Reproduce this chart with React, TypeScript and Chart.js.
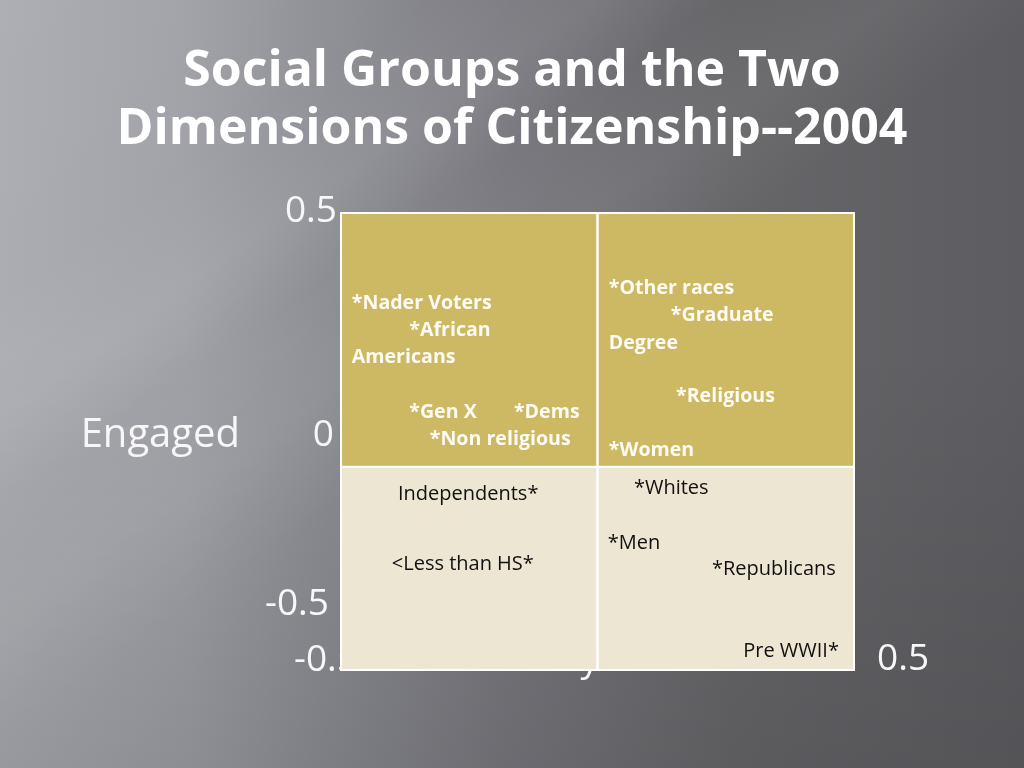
import React, { useEffect, useRef } from 'react';
import { Chart, Plugin, registerables } from 'chart.js';

Chart.register(...registerables);

// Axis ranges (data units)
const xRange = [-0.5, 0.5];
const yRange = [-0.4, 0.5];

// Quadrant cells
const quadrantXFrom = [-0.5, 0, -0.5, 0];
const quadrantXTo = [0, 0.5, 0, 0.5];
const quadrantYFrom = [0, 0, -0.4, -0.4];
const quadrantYTo = [0.5, 0.5, 0, 0];

// Social groups placed on the two dimensions
const groupLabels = [
    '*Nader Voters', '*African', 'Americans', '*Gen X', '*Dems', '*Non religious',
    '*Other races', '*Graduate', 'Degree', '*Religious', '*Women',
    'Independents*', '<Less than HS*',
    '*Whites', '*Men', '*Republicans', 'Pre WWII*'
];
const groupX = [
    -0.479, -0.367, -0.479, -0.367, -0.163, -0.327,
    0.022, 0.143, 0.022, 0.153, 0.022,
    -0.389, -0.401,
    0.071, 0.020, 0.223, 0.284
];
const groupY = [
    0.325, 0.272, 0.219, 0.110, 0.110, 0.057,
    0.354, 0.301, 0.246, 0.142, 0.035,
    -0.051, -0.189,
    -0.039, -0.148, -0.199, -0.360
];

// Tick labels and axis titles
const yTickLabels = ['0.5', '0', '-0.5'];
const xTickLabels = ['-0.5', '0.5'];
const yAxisTitle = 'Engaged';
const xAxisTitle = 'Duty';

const titleLines = ['Social Groups and the Two', 'Dimensions of Citizenship--2004'];

// styles / layout (kept apart from the data)
const quadrantColors = ['#cdb964', '#cdb964', '#ece6d3', '#ece6d3'];
const tickFont = '37px "Open Sans"';
const titleFont = '40px "Open Sans"';

const chartPlugin: Plugin = {
    id: 'quadrantChart',
    beforeDatasetsDraw(chart) {
        const { ctx, scales } = chart;
        const xs = scales.x;
        const ys = scales.y;
        ctx.save();
        // axis texts sit behind the cells
        ctx.fillStyle = '#f7f7f7';
        ctx.textBaseline = 'alphabetic';
        const cap = 37 * 0.357;
        ctx.font = titleFont;
        ctx.textAlign = 'right';
        ctx.fillText(yAxisTitle, 240, 433 + 40 * 0.357);
        ctx.font = tickFont;
        ctx.fillText(yTickLabels[0], 337, 209 + cap);
        ctx.fillText(yTickLabels[1], 334, 433 + cap);
        ctx.fillText(yTickLabels[2], 329, 602 + cap);
        ctx.textAlign = 'left';
        ctx.fillText(xTickLabels[0], 294, 658 + cap);
        ctx.fillText(xTickLabels[1], 877, 657 + cap);
        ctx.textAlign = 'right';
        ctx.fillText(xAxisTitle, 599, 671);

        // quadrant cells
        for (let i = 0; i < quadrantXFrom.length; i++) {
            const l = xs.getPixelForValue(quadrantXFrom[i]);
            const r = xs.getPixelForValue(quadrantXTo[i]);
            const t = ys.getPixelForValue(quadrantYTo[i]);
            const b = ys.getPixelForValue(quadrantYFrom[i]);
            ctx.fillStyle = quadrantColors[i];
            ctx.fillRect(l, t, r - l, b - t);
        }
        ctx.strokeStyle = '#ffffff';
        ctx.lineWidth = 2;
        for (let i = 0; i < quadrantXFrom.length; i++) {
            const l = xs.getPixelForValue(quadrantXFrom[i]);
            const r = xs.getPixelForValue(quadrantXTo[i]);
            const t = ys.getPixelForValue(quadrantYTo[i]);
            const b = ys.getPixelForValue(quadrantYFrom[i]);
            ctx.strokeRect(l, t, r - l, b - t);
        }
        ctx.restore();
    },
    afterDatasetsDraw(chart) {
        const { ctx } = chart;
        const meta = chart.getDatasetMeta(0);
        ctx.save();
        ctx.textAlign = 'left';
        ctx.textBaseline = 'alphabetic';
        meta.data.forEach((pt, i) => {
            const upper = groupY[i] > 0;
            const fs = upper ? 19.6 : 20;
            ctx.font = upper ? `bold ${fs}px "Open Sans"` : `${fs}px "Open Sans"`;
            ctx.fillStyle = upper ? '#fdfbf3' : '#111111';
            ctx.fillText(groupLabels[i], pt.x, pt.y + fs * 0.357);
        });
        ctx.restore();
    }
};

const App: React.FC = () => {
    const canvasRef = useRef<HTMLCanvasElement | null>(null);

    useEffect(() => {
        document.body.style.margin = '0';
        if (!canvasRef.current) return;
        const ctx = canvasRef.current.getContext('2d');
        if (!ctx) return;

        const chartInstance = new Chart(ctx, {
            type: 'scatter',
            data: {
                datasets: [{
                    data: groupX.map((x, i) => ({ x, y: groupY[i] })),
                    pointRadius: 0,
                    pointHoverRadius: 0,
                    backgroundColor: 'transparent',
                    borderColor: 'transparent'
                }]
            },
            options: {
                responsive: false,
                animation: false,
                devicePixelRatio: 1,
                layout: { padding: { left: 341, right: 170, top: 213, bottom: 98 } },
                scales: {
                    x: { type: 'linear', min: xRange[0], max: xRange[1], display: false },
                    y: { type: 'linear', min: yRange[0], max: yRange[1], display: false }
                },
                plugins: {
                    legend: { display: false },
                    tooltip: { enabled: false }
                }
            },
            plugins: [chartPlugin]
        });

        return () => {
            chartInstance.destroy();
        };
    }, []);

    return (
        <div style={{
            position: 'fixed', left: 0, top: 0, width: 1024, height: 768, overflow: 'hidden',
            background: [
                'linear-gradient(to bottom, rgba(0,0,0,0) 45%, rgba(0,0,0,0.10) 100%)',
                'linear-gradient(145deg, rgba(255,255,255,0) 20%, rgba(255,255,255,0.06) 28%, rgba(255,255,255,0) 34%, rgba(255,255,255,0.05) 42%, rgba(255,255,255,0) 50%)',
                'linear-gradient(125deg, rgba(255,255,255,0.08) 0%, rgba(255,255,255,0.03) 30%, rgba(255,255,255,0) 45%)',
                'linear-gradient(to right, #a7a8ae 0%, #9d9ea4 18%, #8b8c92 32%, #77777d 50%, #666669 72%, #5d5d61 100%)'
            ].join(',')
        }}>
            <div style={{
                position: 'absolute', left: 0, top: 38, width: 1024, textAlign: 'center',
                fontFamily: '"Open Sans"', fontWeight: 700, fontSize: 50, lineHeight: '58px',
                fontStretch: '92%', color: '#ffffff'
            }}>
                {titleLines.map((t) => <div key={t}>{t}</div>)}
            </div>
            <canvas ref={canvasRef} width={1024} height={768}
                style={{ position: 'absolute', left: 0, top: 0, display: 'block' }} />
        </div>
    );
};

export default App;
